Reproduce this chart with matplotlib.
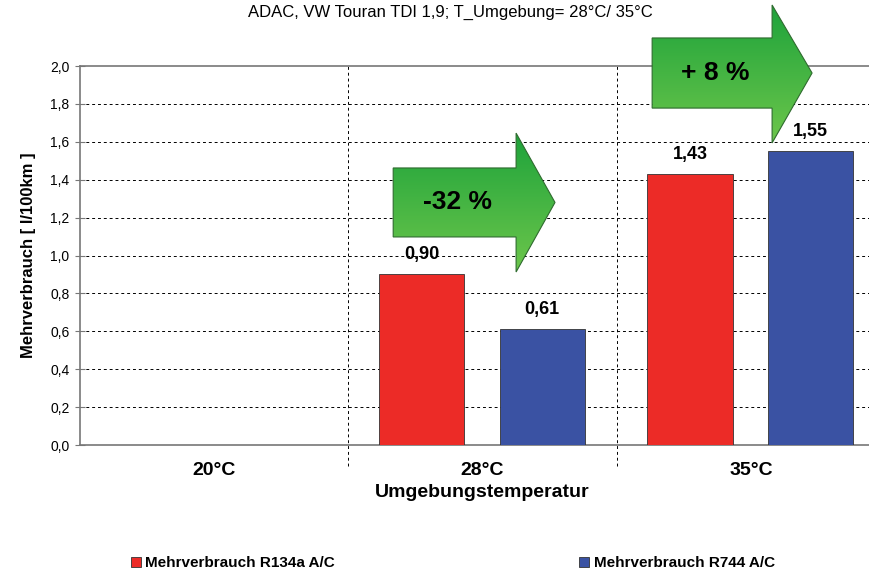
import numpy as np
import matplotlib
matplotlib.use("Agg")
import matplotlib.pyplot as plt
from matplotlib.patches import Polygon

plt.rcParams['font.family'] = ['Liberation Sans', 'DejaVu Sans']

# --- data ---
categories = ['20°C', '28°C', '35°C']
r134a = [np.nan, 0.90, 1.43]
r744 = [np.nan, 0.61, 1.55]
value_labels_r134a = ['', '0,90', '1,43']
value_labels_r744 = ['', '0,61', '1,55']
y_ticks = [0.0, 0.2, 0.4, 0.6, 0.8, 1.0, 1.2, 1.4, 1.6, 1.8, 2.0]
change_labels = ['-32 %', '+ 8 %']

RED = '#ec2b27'
BLUE = '#3a52a3'

fig = plt.figure(figsize=(8.69, 5.74), dpi=100)
pos = [0.0921, 0.2247, 0.9264, 0.6603]
ax = fig.add_axes(pos)
XLIM = (-0.5, 2.5)
YLIM = (0, 2.0)

x = np.arange(len(categories))
w = 0.317
ax.bar(x - 0.227, r134a, w, color=RED, edgecolor='#333333', linewidth=0.6, zorder=3)
ax.bar(x + 0.222, r744, w, color=BLUE, edgecolor='#333333', linewidth=0.6, zorder=3)

for xi, v, lab in zip(x - 0.227, r134a, value_labels_r134a):
    if lab:
        ax.text(xi, v + 0.06, lab, ha='center', va='bottom', fontsize=13,
                fontweight='bold')
for xi, v, lab in zip(x + 0.222, r744, value_labels_r744):
    if lab:
        ax.text(xi, v + 0.06, lab, ha='center', va='bottom', fontsize=13,
                fontweight='bold')

ax.set_xlim(*XLIM)
ax.set_ylim(*YLIM)

# grid
for yt in y_ticks[1:-1]:
    ax.axhline(yt, color='black', lw=0.7, ls=(0, (3, 3)), zorder=1)
for xb in [0.5, 1.5]:
    ax.axvline(xb, ymin=-0.055, ymax=1, color='black', lw=0.7, ls=(0, (3, 3)),
               zorder=1, clip_on=False)

for s in ['left', 'bottom', 'top']:
    ax.spines[s].set_color('#777777')
    ax.spines[s].set_linewidth(1.2)
ax.spines['right'].set_visible(False)

ax.set_yticks(y_ticks)
ax.set_yticklabels([f'{t:.1f}'.replace('.', ',') for t in y_ticks], fontsize=10)
ax.tick_params(axis='y', direction='inout', length=7, color='#777777', pad=4)
ax.set_xticks(x)
ax.set_xticklabels(categories, fontsize=14, fontweight='bold')
ax.tick_params(axis='x', length=0, pad=12)

ax.set_xlabel('Umgebungstemperatur', fontsize=14, fontweight='bold', labelpad=4)
ax.set_ylabel('Mehrverbrauch [ l/100km ]', fontsize=12, fontweight='bold',
              labelpad=10)

fig.text(0.518, 0.979, 'ADAC, VW Touran TDI 1,9; T_Umgebung= 28°C/ 35°C',
         ha='center', va='center', fontsize=12)

# overlay axes over the whole figure, same data coordinates as ax,
# so the arrows may stick out above the plot area
l, b, wd, ht = pos
xs = (XLIM[1] - XLIM[0]) / wd
ys = (YLIM[1] - YLIM[0]) / ht
ov = fig.add_axes([0, 0, 1, 1], zorder=5)
ov.set_axis_off()
ov.patch.set_alpha(0)

grad = np.linspace(0, 1, 100).reshape(-1, 1)
cmap = matplotlib.colors.LinearSegmentedColormap.from_list('g', ['#1ea33b', '#6cc64b'])


def block_arrow(x0, x1, xt, yb0, yb1, yh0, yh1, label):
    ym = (yb0 + yb1) / 2
    pts = [(x0, yb0), (x1, yb0), (x1, yh0), (xt, ym), (x1, yh1), (x1, yb1), (x0, yb1)]
    poly = Polygon(pts, closed=True, facecolor='none', edgecolor='#2e6b2e',
                   lw=0.8, zorder=6)
    ov.add_patch(poly)
    im = ov.imshow(grad, extent=(x0, xt, yh0, yh1), aspect='auto', cmap=cmap,
                   origin='upper', zorder=5)
    im.set_clip_path(poly)
    ov.text((x0 + x1) / 2 + 0.01, ym, label, ha='center', va='center',
            fontsize=19, fontweight='bold', zorder=7)


block_arrow(0.667, 1.125, 1.270, 1.098, 1.462, 0.913, 1.646, change_labels[0])
block_arrow(1.632, 2.079, 2.228, 1.778, 2.148, 1.594, 2.322, change_labels[1])

ov.set_xlim(XLIM[0] - l * xs, XLIM[0] + (1 - l) * xs)
ov.set_ylim(YLIM[0] - b * ys, YLIM[0] + (1 - b) * ys)

# legend
h1 = plt.Rectangle((0, 0), 1, 1, facecolor=RED, edgecolor='#333333', lw=0.6)
h2 = plt.Rectangle((0, 0), 1, 1, facecolor=BLUE, edgecolor='#333333', lw=0.6)
fig.legend([h1, h2], ['Mehrverbrauch R134a A/C', 'Mehrverbrauch R744 A/C'],
           loc='center', bbox_to_anchor=(0.521, 0.019), ncol=2, frameon=False,
           handlelength=0.65, handleheight=0.65, handletextpad=0.3,
           columnspacing=16.0, prop={'weight': 'bold', 'size': 11})

fig.savefig('out.png', dpi=100, facecolor='white')
